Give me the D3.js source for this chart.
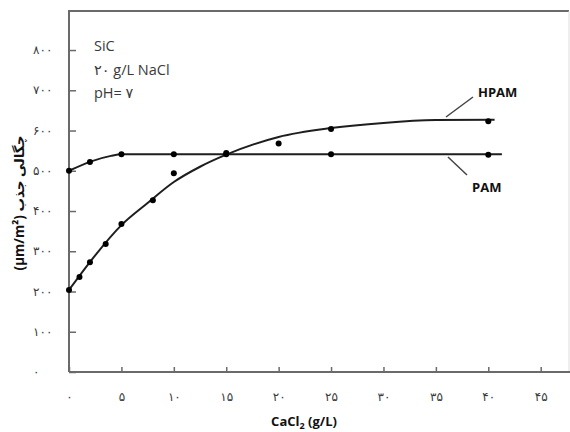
<!DOCTYPE html>
<html><head><meta charset="utf-8">
<script src="https://cdn.jsdelivr.net/npm/d3@7"></script>
<style>body{margin:0;background:#fff}svg{display:block}</style>
</head><body>
<svg id="c" width="570" height="432"></svg>
<script>
// ---- data ----
const xTicks = [0,5,10,15,20,25,30,35,40,45];
const xTickLabels = ["۰","۵","۱۰","۱۵","۲۰","۲۵","۳۰","۳۵","۴۰","۴۵"];
const yTicks = [0,100,200,300,400,500,600,700,800];
const yTickLabels = ["۰","۱۰۰","۲۰۰","۳۰۰","۴۰۰","۵۰۰","۶۰۰","۷۰۰","۸۰۰"];
const hpamX = [0,1,2,3.5,5,8,10,15,20,25,40];
const hpamY = [204,236,273,318,368,427,494,544,568,604,623];
const pamX = [0,2,5,10,15,25,40];
const pamY = [500,522,541,541,541,541,540];
const hpamFitX = [0,2.5,5,7.5,10,12.5,15,20,25,30,35,40.6];
const hpamFitY = [204,290,365,420,472,510,540,584,606,619,626,627];
const pamFitX = [0,2.2,4,5,10,20,30,41.3];
const pamFitY = [500,524,537,541,541,541,541,541];
const infoLines = ["SiC","۲۰ g/L NaCl","pH= ۷"];
const xTitle = "CaCl";
const yTitle = "(µm/m²) چگالی جذب";

const svg = d3.select("#c");
const x = d3.scaleLinear().domain([0,47.7]).range([69,569]);
const y = d3.scaleLinear().domain([0,897]).range([372,11]);
const frame = "#6a6a6a", ink = "#1e1e1e", txt = "#3a3a3a";

// frame
svg.append("path").attr("d",`M${x(0)},${y(0)}V${y(897)}H${x(47.7)}`)
  .attr("fill","none").attr("stroke",frame).attr("stroke-width",2);
svg.append("line").attr("x1",x(47.7)).attr("x2",x(47.7)).attr("y1",y(897)).attr("y2",y(0))
  .attr("stroke","#ddd").attr("stroke-width",1);
svg.append("line").attr("x1",x(0)).attr("x2",570).attr("y1",y(0)).attr("y2",y(0))
  .attr("stroke",frame).attr("stroke-width",2);

// x ticks
const xa = d3.axisBottom(x).tickValues(xTicks).tickSize(-5).tickFormat((d,i)=>xTickLabels[i]).tickPadding(20);
const gx = svg.append("g").attr("transform",`translate(0,${y(0)})`).call(xa);
gx.select(".domain").remove();
gx.selectAll(".tick line").attr("stroke",frame).attr("stroke-width",1.5);
gx.selectAll(".tick text").attr("fill",txt).attr("font-family","DejaVu Sans").attr("font-size",12)
  .attr("letter-spacing",2);

// y ticks
const ya = d3.axisLeft(y).tickValues(yTicks).tickSize(-7).tickFormat("");
const gy = svg.append("g").attr("transform",`translate(${x(0)},0)`).call(ya);
gy.select(".domain").remove();
gy.selectAll(".tick line").attr("stroke",frame).attr("stroke-width",1.5);
svg.append("g").selectAll("text").data(yTicks).join("text")
  .attr("x",33).attr("y",d=>y(d)+4).attr("fill",txt)
  .attr("font-family","DejaVu Sans").attr("font-size",12).attr("letter-spacing",2)
  .text((d,i)=>yTickLabels[i]);

// curves
const line = d3.line().x(d=>x(d[0])).y(d=>y(d[1])).curve(d3.curveMonotoneX);
svg.append("path").datum(hpamFitX.map((v,i)=>[v,hpamFitY[i]])).attr("d",line)
  .attr("fill","none").attr("stroke",ink).attr("stroke-width",2);
svg.append("path").datum(pamFitX.map((v,i)=>[v,pamFitY[i]])).attr("d",line)
  .attr("fill","none").attr("stroke",ink).attr("stroke-width",2);

// points
svg.append("g").selectAll("circle").data(hpamX.map((v,i)=>[v,hpamY[i]])).join("circle")
  .attr("cx",d=>x(d[0])).attr("cy",d=>y(d[1])).attr("r",3).attr("fill","#000");
svg.append("g").selectAll("circle").data(pamX.map((v,i)=>[v,pamY[i]])).join("circle")
  .attr("cx",d=>x(d[0])).attr("cy",d=>y(d[1])).attr("r",3).attr("fill","#000");

// info text
svg.append("g").selectAll("text").data(infoLines).join("text")
  .attr("x",94).attr("y",(d,i)=>51+i*23.5).attr("fill",txt)
  .attr("font-family","Open Sans, DejaVu Sans").attr("font-size",14.5)
  .attr("direction","ltr").style("unicode-bidi","plaintext")
  .text(d=>d);

// series labels with leaders
svg.append("line").attr("x1",473).attr("y1",97).attr("x2",446).attr("y2",117)
  .attr("stroke","#444").attr("stroke-width",1.5);
svg.append("line").attr("x1",448).attr("y1",157).attr("x2",467).attr("y2",175)
  .attr("stroke","#444").attr("stroke-width",1.5);
svg.append("text").attr("x",478).attr("y",97).attr("font-family","Open Sans")
  .attr("font-weight","bold").attr("font-size",13).attr("fill","#111").text("HPAM");
svg.append("text").attr("x",472).attr("y",192).attr("font-family","Open Sans")
  .attr("font-weight","bold").attr("font-size",13).attr("fill","#111").text("PAM");

// x title
const xt = svg.append("text").attr("x",304).attr("y",426).attr("text-anchor","middle")
  .attr("font-family","Open Sans").attr("font-weight","bold").attr("font-size",13).attr("fill","#111");
xt.append("tspan").text(xTitle);
xt.append("tspan").attr("font-size",9).attr("dy",3).text("2");
xt.append("tspan").attr("dy",-3).text(" (g/L)");

// y title
svg.append("text").attr("transform","translate(24,203) rotate(-90)").attr("text-anchor","middle")
  .attr("font-family","Open Sans, DejaVu Sans").attr("font-weight","bold").attr("font-size",13.5)
  .attr("fill","#111").attr("direction","ltr").text(yTitle);
</script>
</body></html>
